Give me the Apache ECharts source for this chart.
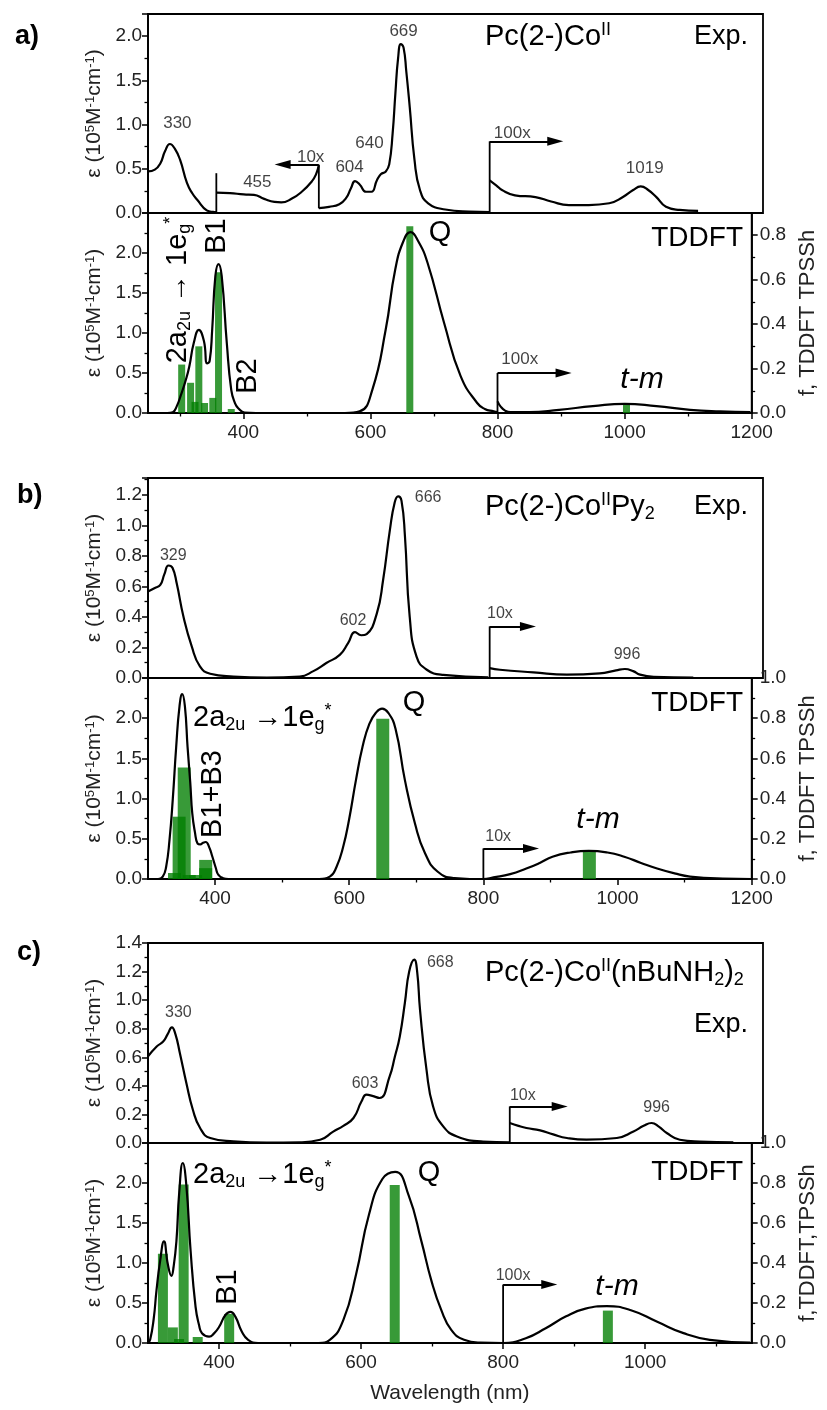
<!DOCTYPE html>
<html><head><meta charset="utf-8">
<script src="https://cdn.jsdelivr.net/npm/echarts@6/dist/echarts.min.js"></script>
<style>html,body{margin:0;padding:0;background:#fff}#c{width:827px;height:1410px}</style>
</head><body><div id="c"></div>
<script>
// ---------- DATA ----------
// Panel a) experimental (null = break, scaled regions 10x / 100x)
const aExp = [
 [300,0.47],[310,0.49],[318,0.56],[325,0.70],[332,0.78],[339,0.73],[347,0.60],[357,0.34],[365,0.22],[372,0.15],[386,0.03],[395,0.012],[400,0.01],
 null,
 [400,0.23],[420,0.225],[440,0.21],[455,0.205],[470,0.16],[485,0.125],[495,0.12],[510,0.16],[525,0.24],[540,0.36],[546,0.44],[550,0.54],
 null,
 [550,0.055],[565,0.07],[580,0.1],[590,0.17],[597,0.28],[603,0.36],[610,0.32],[619,0.24],[627,0.24],[635,0.37],[641,0.44],[648,0.47],[653,0.55],[658,0.9],[662,1.35],[666,1.75],[670,1.91],[674,1.87],[678,1.6],[683,1.2],[690,0.6],[698,0.26],[710,0.11],[735,0.04],[770,0.015],[800,0.01],
 null,
 [800,0.37],[810,0.31],[818,0.26],[837,0.2],[867,0.18],[890,0.13],[916,0.09],[945,0.09],[975,0.11],[995,0.18],[1010,0.26],[1021,0.30],[1032,0.26],[1044,0.18],[1058,0.07],[1078,0.035],[1105,0.025]
];
const aTd = [
 [250,0],[280,0],[289,0.01],[295,0.08],[302,0.23],[309,0.4],[315,0.58],[322,0.875],[330,1.04],[338,0.9],[343,0.62],[347,0.65],[351,1.04],[356,1.71],[361,1.86],[366,1.71],[374,0.875],[381,0.29],[387,0.12],[392,0.06],[402,0.005],[420,0],[560,0],[583,0.02],[603,0.29],[624,1.04],[639,1.79],[652,2.15],[663,2.26],[675,2.15],[690,1.875],[716,1.125],[742,0.46],[768,0.125],[780,0.05],[794,0.02],[800,0.01],
 null,
 [800,0.145],[805,0.08],[812,0.03],[820,0.01],[850,0.01],[897,0.04],[950,0.085],[1000,0.115],[1050,0.085],[1103,0.04],[1150,0.02],[1198,0.01]
];
const aBars = [[303,0.218],[317,0.136],[324,0.05],[330,0.30],[339,0.045],[352,0.068],[361,0.633],[381,0.018],[662,0.84],[1003,0.0375]];
const aExpLabels = [[343,1.01,'330'],[460,0.35,'455'],[538,0.63,'10x'],[595,0.52,'604'],[624,0.79,'640'],[674,2.05,'669'],[833,0.9,'100x'],[1027,0.51,'1019']];
const aExpArrows = [[400,0,0.45,null],[550,0.053,0.547,497],[800,0,0.81,896]];
const aTdLabels = [[835,0.67,'100x']];
const aTdArrows = [[800,0,0.5,904]];
const aXTicks = [400,600,800,1000,1200];
const aXMinor = [300,500,700,900,1100];

// Panel b)
const bExp = [
 [300,0.567],[310,0.59],[318,0.61],[324,0.68],[330,0.737],[336,0.72],[342,0.62],[352,0.40],[364,0.207],[376,0.076],[391,0.028],[425,0.01],[474,0.003],[522,0.01],[542,0.045],[561,0.098],[581,0.153],[593,0.23],[603,0.30],[612,0.28],[620,0.288],[635,0.425],[644,0.64],[654,0.97],[661,1.15],[666,1.19],[671,1.16],[676,0.93],[683,0.40],[693,0.14],[708,0.054],[732,0.02],[798,0.005],
 null,
 [800,0.065],[815,0.054],[864,0.037],[913,0.022],[961,0.03],[985,0.05],[998,0.059],[1010,0.045],[1020,0.022],[1040,0.008],[1098,0.003]
];
const bTd = [
 [300,0],[315,0],[322,0.03],[327,0.15],[332,0.48],[337,1.0],[342,1.64],[347,2.15],[351,2.30],[355,2.15],[359,1.64],[363,1.2],[366,0.815],[370,0.58],[374,0.44],[378,0.43],[382,0.45],[386,0.46],[391,0.4],[396,0.277],[401,0.14],[405,0.05],[412,0.01],[420,0],[555,0],[571,0.03],[581,0.15],[591,0.4],[600,0.75],[610,1.23],[620,1.65],[630,1.93],[640,2.07],[649,2.12],[658,2.07],[669,1.87],[683,1.23],[698,0.69],[713,0.32],[732,0.09],[757,0.01],[780,0],[800,0],[815,0.02],[840,0.06],[864,0.13],[884,0.2],[903,0.277],[930,0.33],[957,0.35],[985,0.33],[1010,0.277],[1035,0.2],[1059,0.13],[1085,0.07],[1108,0.03],[1157,0.005],[1200,0]
];
const bBars = [[339.5,0.03],[346.4,0.31],[354,0.555],[361.5,0.02],[371,0.02],[386,0.095],[386,0.054],[650,0.797],[958,0.137]];
const bExpLabels = [[337,0.80,'329'],[600,0.377,'602'],[710,1.18,'666'],[815,0.42,'10x'],[1001,0.153,'996']];
const bExpArrows = [[800,0,0.338,856]];
const bTdLabels = [[822,0.525,'10x']];
const bTdArrows = [[800,0,0.38,871]];
const bXTicks = [400,600,800,1000,1200];
const bXMinor = [500,700,900,1100];

// Panel c)
const cExp = [
 [300,0.606],[312,0.676],[321,0.71],[327,0.76],[333,0.81],[338,0.76],[344,0.63],[353,0.42],[362,0.233],[372,0.105],[386,0.035],[418,0.012],[464,0.003],[510,0.005],[538,0.023],[556,0.08],[570,0.12],[584,0.175],[595,0.29],[602,0.338],[610,0.33],[620,0.315],[634,0.466],[641,0.6],[648,0.746],[655,0.98],[661,1.2],[668,1.283],[672,1.2],[676,0.93],[685,0.51],[694,0.256],[708,0.116],[727,0.046],[763,0.01],[800,0.005],
 null,
 [800,0.14],[812,0.12],[823,0.105],[842,0.088],[860,0.06],[879,0.035],[906,0.023],[948,0.035],[971,0.08],[985,0.12],[996,0.14],[1006,0.115],[1017,0.07],[1035,0.023],[1063,0.01],[1109,0.005]
];
const cTd = [
 [300,0],[303,0.04],[308,0.3],[312,0.66],[317,1.02],[322.5,1.27],[328,0.98],[333,0.84],[336,0.95],[340,1.27],[344,1.885],[349,2.25],[354,1.97],[360,1.15],[367,0.45],[372,0.22],[376,0.123],[386,0.08],[393,0.12],[400,0.2],[409,0.35],[416,0.39],[423,0.33],[432,0.143],[441,0.04],[455,0],[540,0],[556,0.04],[575,0.287],[593,0.86],[611,1.6],[630,2.05],[648,2.14],[667,1.845],[685,1.27],[699,0.78],[713,0.41],[727,0.164],[745,0.04],[768,0.005],[800,0],[832,0.06],[860,0.185],[888,0.33],[916,0.43],[946,0.46],[980,0.41],[1017,0.265],[1054,0.123],[1091,0.04],[1148,0.005]
];
const cBars = [[321,0.446],[335,0.078],[343.7,0.02],[350.2,0.793],[370,0.03],[414.3,0.145],[647.4,0.79],[947.5,0.162]];
const cExpLabels = [[342,0.91,'330'],[600,0.415,'603'],[704,1.26,'668'],[818,0.33,'10x'],[1003,0.245,'996']];
const cExpArrows = [[800,0,0.256,869]];
const cTdLabels = [[814,0.84,'100x']];
const cTdArrows = [[800,0,0.73,865]];
const cXTicks = [400,600,800,1000];
const cXMinor = [500,700,900,1100];

// ---------- BUILD ----------
const FONT = "'Liberation Sans', Arial, sans-serif";
const GREEN = 'rgba(0,125,0,0.78)';
const panels = [
 {exp:aExp, expLabels:aExpLabels, expArrows:aExpArrows, td:aTd, bars:aBars, tdLabels:aTdLabels, tdArrows:aTdArrows,
  expX:[300,1200], tdX:[250,1200], expMax:2.25, expInt:0.5, expShowMax:false, rightMax:0.9, rightShowMax:false,
  barW:7, xTicks:aXTicks, xMinor:aXMinor, rightName:'f, TDDFT TPSSh', top:14, hExp:199, hTd:200, lblSize:17},
 {exp:bExp, expLabels:bExpLabels, expArrows:bExpArrows, td:bTd, bars:bBars, tdLabels:bTdLabels, tdArrows:bTdArrows,
  expX:[300,1200], tdX:[300,1200], expMax:1.31, expInt:0.2, expShowMax:false, rightMax:1.0, rightShowMax:true,
  barW:13, xTicks:bXTicks, xMinor:bXMinor, rightName:'f, TDDFT TPSSh', top:478, hExp:200, hTd:201, lblSize:16},
 {exp:cExp, expLabels:cExpLabels, expArrows:cExpArrows, td:cTd, bars:cBars, tdLabels:cTdLabels, tdArrows:cTdArrows,
  expX:[300,1150], tdX:[300,1150], expMax:1.4, expInt:0.2, expShowMax:true, rightMax:1.0, rightShowMax:true,
  barW:10, xTicks:cXTicks, xMinor:cXMinor, rightName:'f,TDDFT,TPSSh', top:943, hExp:200, hTd:200, lblSize:16}
];

function segs(arr){const out=[[]];arr.forEach(p=>{if(p===null)out.push([]);else out[out.length-1].push(p);});return out.filter(s=>s.length);}

const epsName = 'ε (10{s|5}M{s|-1}cm{s|-1})';
const nameStyle = {fontSize:21, color:'#222', fontFamily:FONT, rich:{s:{fontSize:13, verticalAlign:'top', lineHeight:10, fontFamily:FONT, color:'#222'}}};
const tickLbl = {fontSize:19, color:'#222', fontFamily:FONT};
const blackLine = {color:'#000', width:1.8};

const option = {animation:false, backgroundColor:'#fff', grid:[], xAxis:[], yAxis:[], series:[], graphic:[]};

function arrowSeries(a, xi, yi){
  const s = {type:'line', xAxisIndex:xi, yAxisIndex:yi, data:[[a[0],a[1]],[a[0],a[2]]], symbol:'none',
    lineStyle:{color:'#000', width:1.8}, z:4, silent:true};
  if (a[3] != null) {
    s.markLine = {silent:true, symbol:['none','triangle'], lineStyle:{type:'solid', color:'#000', width:1.8}, label:{show:false},
      data:[[{coord:[a[0],a[2]], symbol:'none'},{coord:[a[3],a[2]], symbol:'triangle', symbolSize:[9,16]}]]};
  }
  return s;
}
function labelSeries(lbls, xi, yi, size){
  return {type:'scatter', xAxisIndex:xi, yAxisIndex:yi, symbolSize:0, silent:true, z:6,
    data: lbls.map(l=>({name:l[2], value:[l[0],l[1]]})),
    label:{show:true, position:'inside', formatter:'{b}', color:'#111', fontSize:size, fontFamily:FONT}};
}

panels.forEach((p,i)=>{
  const ge = option.grid.length;
  option.grid.push({left:148, width:615, top:p.top, height:p.hExp, show:true, borderColor:'#000', borderWidth:1.8});
  const gt = option.grid.length;
  option.grid.push({left:148, width:615, top:p.top+p.hExp, height:p.hTd, show:true, borderColor:'#000', borderWidth:1.8});

  const xe = option.xAxis.length;
  option.xAxis.push({type:'value', gridIndex:ge, min:p.expX[0], max:p.expX[1], show:false});
  const xt = option.xAxis.length;
  option.xAxis.push({type:'value', gridIndex:gt, min:p.tdX[0], max:p.tdX[1], position:'bottom',
    axisLine:{show:true, lineStyle:blackLine},
    axisTick:{show:true, customValues:p.xTicks, length:6, lineStyle:{color:'#000', width:1.5}},
    axisLabel:{show:true, customValues:p.xTicks, margin:10, formatter:v=>String(v), ...tickLbl},
    splitLine:{show:false},
    name: i===2 ? 'Wavelength (nm)' : '', nameLocation:'middle', nameGap:40,
    nameTextStyle:{fontSize:21, color:'#222', fontFamily:FONT}});
  option.xAxis.push({type:'value', gridIndex:gt, min:p.tdX[0], max:p.tdX[1], position:'bottom',
    axisLine:{show:false}, axisLabel:{show:false}, splitLine:{show:false},
    axisTick:{show:true, customValues:p.xMinor, length:3.5, lineStyle:{color:'#000', width:1.3}}});

  const ye = option.yAxis.length;
  option.yAxis.push({type:'value', gridIndex:ge, min:0, max:p.expMax, interval:p.expInt, position:'left',
    axisLine:{show:true, lineStyle:blackLine},
    axisTick:{show:true, length:6, lineStyle:{color:'#000', width:1.5}},
    minorTick:{show:true, splitNumber:2, length:3.5, lineStyle:{color:'#000', width:1.3}},
    axisLabel:{show:true, margin:6, showMaxLabel:p.expShowMax, formatter:v=>v.toFixed(1), ...tickLbl},
    splitLine:{show:false}, minorSplitLine:{show:false},
    name:epsName, nameLocation:'middle', nameRotate:90, nameGap:40, nameTextStyle:nameStyle});
  const yl = option.yAxis.length;
  option.yAxis.push({type:'value', gridIndex:gt, min:0, max:2.5, interval:0.5, position:'left',
    axisLine:{show:true, lineStyle:blackLine},
    axisTick:{show:true, length:6, lineStyle:{color:'#000', width:1.5}},
    minorTick:{show:true, splitNumber:2, length:3.5, lineStyle:{color:'#000', width:1.3}},
    axisLabel:{show:true, margin:6, showMaxLabel:false, formatter:v=>v.toFixed(1), ...tickLbl},
    splitLine:{show:false}, minorSplitLine:{show:false},
    name:epsName, nameLocation:'middle', nameRotate:90, nameGap:43, nameTextStyle:nameStyle});
  const yr = option.yAxis.length;
  option.yAxis.push({type:'value', gridIndex:gt, min:0, max:p.rightMax, interval:0.2, position:'right',
    axisLine:{show:true, lineStyle:blackLine},
    axisTick:{show:true, length:6, lineStyle:{color:'#000', width:1.5}},
    minorTick:{show:true, splitNumber:2, length:3.5, lineStyle:{color:'#000', width:1.3}},
    axisLabel:{show:true, margin:8, showMaxLabel:p.rightShowMax, formatter:v=>v.toFixed(1), ...tickLbl},
    splitLine:{show:false}, minorSplitLine:{show:false},
    name:p.rightName, nameLocation:'middle', nameRotate:90, nameGap:40,
    nameTextStyle:{fontSize:22, color:'#222', fontFamily:FONT}});

  // experimental curve
  segs(p.exp).forEach(s=>option.series.push({type:'line', xAxisIndex:xe, yAxisIndex:ye, data:s, smooth:0.5,
    symbol:'none', lineStyle:{color:'#000', width:2.2}, z:3, silent:true}));
  p.expArrows.forEach(a=>option.series.push(arrowSeries(a, xe, ye)));
  option.series.push(labelSeries(p.expLabels, xe, ye, p.lblSize));

  // TDDFT bars + curve
  option.series.push({type:'bar', xAxisIndex:xt, yAxisIndex:yr, data:p.bars, barWidth:p.barW,
    itemStyle:{color:GREEN}, z:2, silent:true});
  segs(p.td).forEach(s=>option.series.push({type:'line', xAxisIndex:xt, yAxisIndex:yl, data:s, smooth:0.5,
    symbol:'none', lineStyle:{color:'#000', width:2.2}, z:3, silent:true}));
  p.tdArrows.forEach(a=>option.series.push(arrowSeries(a, xt, yl)));
  option.series.push(labelSeries(p.tdLabels, xt, yl, p.lblSize));
});

// ---------- TEXT ANNOTATIONS ----------
const richBig = {
  m:{fontSize:29, fontFamily:FONT, lineHeight:32, fill:'#000'},
  sb:{fontSize:18, fontFamily:FONT, verticalAlign:'bottom', lineHeight:16, fill:'#000'},
  sp:{fontSize:18, fontFamily:FONT, verticalAlign:'top', lineHeight:14, fill:'#000'}
};
function txt(text, x, y, opts){
  opts = opts || {};
  return {type:'text', x:x, y:y, rotation:opts.rot||0, z:10, silent:true,
    style:{text:text, rich:richBig, fontSize:opts.size||29, fontFamily:FONT, fontWeight:opts.weight||'normal',
      fontStyle:opts.style||'normal', fill:'#000', align:opts.align||'center', verticalAlign:'middle'}};
}
const R = Math.PI/2;
option.graphic = [
  txt('a)', 15, 37, {size:27, weight:'bold', align:'left'}),
  txt('b)', 17, 496, {size:27, weight:'bold', align:'left'}),
  txt('c)', 17, 953, {size:27, weight:'bold', align:'left'}),
  txt('{m|Pc(2-)Co}{sp|II}', 485, 37, {align:'left'}),
  txt('{m|Pc(2-)Co}{sp|II}{m|Py}{sb|2}', 485, 507, {align:'left'}),
  txt('{m|Pc(2-)Co}{sp|II}{m|(nBuNH}{sb|2}{m|)}{sb|2}', 485, 973, {align:'left'}),
  txt('Exp.', 748, 37, {size:27, align:'right'}),
  txt('Exp.', 748, 507, {size:27, align:'right'}),
  txt('Exp.', 748, 1025, {size:27, align:'right'}),
  txt('TDDFT', 743, 238, {size:28, align:'right'}),
  txt('TDDFT', 743, 703, {size:28, align:'right'}),
  txt('TDDFT', 743, 1172, {size:28, align:'right'}),
  txt('Q', 440, 233), txt('Q', 414, 703), txt('Q', 429, 1173),
  txt('t-m', 642, 380, {size:30, style:'italic'}),
  txt('t-m', 598, 820, {size:30, style:'italic'}),
  txt('t-m', 617, 1287, {size:30, style:'italic'}),
  txt('{m|2a}{sb|2u}{m| → 1e}{sb|g}{sp|*}', 178, 290, {rot:R}),
  txt('B1', 217, 236, {size:29, rot:R}),
  txt('B2', 248, 376, {size:29, rot:R}),
  txt('{m|2a}{sb|2u}{m| →1e}{sb|g}{sp|*}', 193, 718, {align:'left'}),
  txt('B1+B3', 213, 794, {size:29, rot:R}),
  txt('{m|2a}{sb|2u}{m| →1e}{sb|g}{sp|*}', 193, 1175, {align:'left'}),
  txt('B1', 228, 1287, {size:29, rot:R})
];

const chart = echarts.init(document.getElementById('c'), null, {renderer:'canvas'});
chart.setOption(option);
</script>
</body></html>
